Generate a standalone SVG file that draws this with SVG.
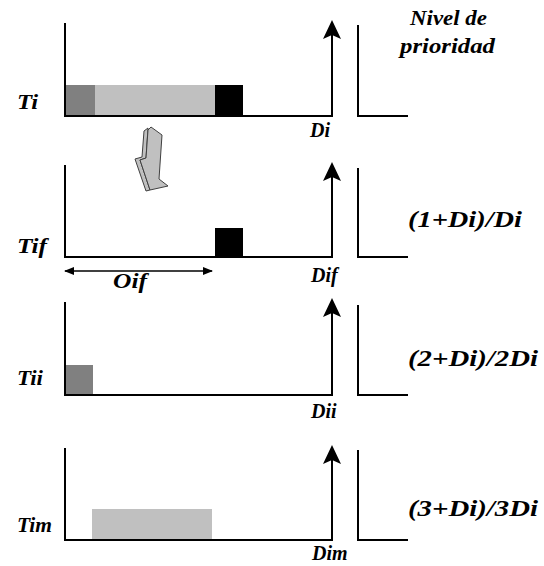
<svg xmlns="http://www.w3.org/2000/svg" width="544" height="566" viewBox="0 0 544 566">
<style>
.ax{fill:none;stroke:#000;stroke-width:2}
text{font-family:'Liberation Serif','Times New Roman',serif;font-weight:700;font-style:italic;font-size:22px;fill:#000}
.f{font-size:23px}
.d{font-size:20px}
.dk{fill:#808080}
.lt{fill:#c0c0c0}
.bk{fill:#000}
.ah{fill:#000}
</style>
<defs>
<marker id="dimh" viewBox="0 0 10 8" refX="9" refY="4" markerWidth="10" markerHeight="8" markerUnits="userSpaceOnUse" orient="auto-start-reverse">
<path d="M0,0 L10,4 L0,8 Z" fill="#000"/>
</marker>
</defs>
<rect width="544" height="566" fill="#fff"/>

<g id="panel-Ti">
<path class="ax" d="M65,23 V116 H332 V30"/>
<path class="ah" d="M332,20 L341,39 L332,35 L323,39 Z"/>
<path class="ax" d="M358,25 V116 H408"/>
<rect class="dk" x="66" y="85" width="29" height="30"/>
<rect class="lt" x="95" y="85" width="120" height="30"/>
<rect class="bk" x="215" y="85" width="28" height="30"/>
<text x="17" y="109" textLength="21" lengthAdjust="spacingAndGlyphs">Ti</text>
<text class="d" x="310" y="137">Di</text>
<text x="410" y="25" textLength="77" lengthAdjust="spacingAndGlyphs">Nivel de</text>
<text x="400" y="53" textLength="95" lengthAdjust="spacingAndGlyphs">prioridad</text>
</g>

<g id="panel-Tif">
<path class="ax" d="M65,165 V257 H332 V172"/>
<path class="ah" d="M332,162 L341,181 L332,177 L323,181 Z"/>
<path class="ax" d="M358,168 V257 H408"/>
<rect class="bk" x="215" y="228" width="28" height="29"/>
<text x="17" y="253" textLength="30" lengthAdjust="spacingAndGlyphs">Tif</text>
<text class="d" x="311" y="282">Dif</text>
<text x="113" y="288" textLength="34" lengthAdjust="spacingAndGlyphs">Oif</text>
<text class="f" x="408" y="227" textLength="114" lengthAdjust="spacingAndGlyphs">(1+Di)/Di</text>
</g>

<g id="panel-Tii">
<path class="ax" d="M65,302 V395 H332 V308"/>
<path class="ah" d="M332,298 L341,317 L332,313 L323,317 Z"/>
<path class="ax" d="M358,305 V395 H408"/>
<rect class="dk" x="66" y="365" width="27" height="29"/>
<text x="17" y="385" textLength="26" lengthAdjust="spacingAndGlyphs">Tii</text>
<text class="d" x="311" y="418">Dii</text>
<text class="f" x="408" y="366" textLength="130" lengthAdjust="spacingAndGlyphs">(2+Di)/2Di</text>
</g>

<g id="panel-Tim">
<path class="ax" d="M65,448 V540 H332 V455"/>
<path class="ah" d="M332,445 L341,464 L332,460 L323,464 Z"/>
<path class="ax" d="M358,450 V540 H408"/>
<rect class="lt" x="92" y="509" width="120" height="30"/>
<text x="17" y="532" textLength="35" lengthAdjust="spacingAndGlyphs">Tim</text>
<text class="d" x="312" y="560">Dim</text>
<text class="f" x="408" y="516" textLength="130" lengthAdjust="spacingAndGlyphs">(3+Di)/3Di</text>
</g>

<g id="connectors">
<line x1="65" y1="271" x2="212" y2="271" stroke="#000" stroke-width="1.5" marker-start="url(#dimh)" marker-end="url(#dimh)"/>
<g id="block-arrow" stroke="#404040" stroke-width="1" stroke-linejoin="round" fill="#c0c0c0">
<polygon points="148,128 144,131 142,157 135,159 146,191 150,190 140,160 146,158"/>
<polygon points="151,127 162,135 159,179 168,186 150,190 140,160 146,158 148,130"/>
</g>
</g>
</svg>
